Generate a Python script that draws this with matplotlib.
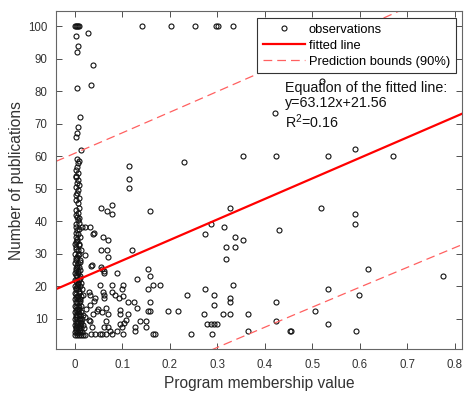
import numpy as np
import matplotlib.pyplot as plt

plt.rcParams['font.family'] = ['Liberation Sans', 'DejaVu Sans']
plt.rcParams['mathtext.fontset'] = 'custom'
plt.rcParams['mathtext.rm'] = 'Liberation Sans'

# dense column of observations at membership ~0
col_pts = [
    (0.000, 100), (0.002, 100), (0.004, 100), (0.006, 100), (0.008, 100),
    (0.003, 97), (0.007, 94), (0.004, 92), (0.005, 81), (0.011, 72),
    (0.006, 69), (0.004, 67), (0.003, 66), (0.012, 62),
    (0.004, 59.0), (0.008, 58.5), (0.006, 57.8), (0.004, 56.7), (0.003, 55.7),
    (0.006, 54.7), (0.002, 54.0), (0.003, 53.4), (0.006, 52.6), (0.004, 51.8),
    (0.008, 51.0), (0.003, 50.6), (0.006, 49.5), (0.004, 48.7), (0.001, 48.0),
    (0.008, 47.0), (0.001, 46.5), (0.006, 45.4), (0.003, 43.4), (0.006, 42.5),
    (0.004, 41.3), (0.006, 40.3), (0.008, 39.5), (0.001, 38.2), (0.004, 37.2),
    (0.002, 36.2), (0.006, 36), (0.002, 35), (0.010, 35), (0.004, 34),
    (0.000, 33), (0.008, 33), (0.002, 32), (0.006, 31), (0.012, 31),
    (0.000, 30), (0.008, 30), (0.004, 29), (0.002, 28), (0.010, 28),
    (0.000, 27), (0.006, 27), (0.004, 26), (0.008, 26), (0.002, 25),
    (0.010, 25), (0.000, 24), (0.006, 24), (0.004, 23), (0.010, 23),
    (0.000, 22), (0.008, 22), (0.006, 21), (0.012, 21), (0.000, 20),
    (0.004, 20), (0.010, 20), (0.002, 19), (0.006, 19), (0.014, 19),
    (0.000, 18), (0.008, 18), (0.004, 17), (0.012, 17), (0.000, 16),
    (0.006, 16), (0.010, 16), (0.002, 15), (0.008, 15), (0.000, 14),
    (0.006, 14), (0.012, 14), (0.004, 13), (0.008, 13), (0.000, 12),
    (0.006, 12), (0.012, 12), (0.002, 11), (0.010, 11), (0.016, 11),
    (0.000, 10), (0.004, 10), (0.008, 10), (0.014, 10), (0.002, 9),
    (0.006, 9), (0.012, 9), (0.000, 8), (0.004, 8), (0.010, 8),
    (0.016, 8), (0.002, 7), (0.008, 7), (0.012, 7), (0.018, 7),
    (0.000, 6), (0.006, 6), (0.010, 6), (0.014, 6), (0.000, 5),
    (0.004, 5), (0.008, 5), (0.012, 5), (0.016, 5), (0.020, 5),
    # second layer, fills the solid part of the column
    (0.005, 34.5), (0.001, 33.5), (0.009, 32.5), (0.003, 31.5), (0.007, 29.5),
    (0.001, 28.5), (0.011, 27.5), (0.005, 26.5), (0.001, 25.5), (0.007, 24.5),
    (0.003, 23.5), (0.011, 22.5), (0.001, 21.5), (0.007, 20.5), (0.003, 19.5),
    (0.009, 18.5), (0.001, 17.5), (0.007, 17.0), (0.003, 16.5), (0.011, 15.5),
    (0.005, 15.0), (0.001, 13.5), (0.009, 13.5), (0.003, 12.5), (0.009, 11.5),
    (0.005, 11.0), (0.001, 10.5), (0.011, 9.5), (0.005, 8.5), (0.001, 7.5),
    (0.007, 7.5), (0.003, 6.5), (0.011, 6.5), (0.005, 5.5), (0.013, 8.5),
    (0.009, 44.0), (0.001, 42.0), (0.009, 41.0), (0.003, 39.0), (0.009, 37.5),
]

# observations spread out along the x axis
spread_pts = [
    (0.028, 98), (0.038, 88), (0.034, 82),
    (0.142, 100), (0.203, 100), (0.252, 100), (0.298, 100), (0.302, 100), (0.333, 100),
    (0.422, 73.1), (0.520, 83.2),
    (0.114, 57.0), (0.114, 53.0), (0.114, 50.1), (0.230, 58.1), (0.353, 60.0),
    (0.078, 45.0), (0.055, 44.1), (0.067, 43.1), (0.078, 42.2), (0.158, 43.1), (0.326, 44.1),
    (0.287, 39.1), (0.274, 36.1), (0.313, 38.1), (0.337, 35.1), (0.353, 34.2),
    (0.319, 32.1), (0.337, 32.1), (0.319, 28.2),
    (0.014, 38.1), (0.022, 38.1), (0.031, 38.1), (0.039, 36.4),
    (0.038, 36.1), (0.058, 35.1), (0.069, 34.2), (0.055, 31.1), (0.067, 31.1),
    (0.069, 29.0), (0.121, 31.1), (0.020, 29.4), (0.035, 26.4),
    (0.034, 26.2), (0.055, 26.0), (0.056, 25.3), (0.062, 24.5), (0.060, 24.1), (0.088, 24.1),
    (0.154, 25.1), (0.158, 23.1), (0.131, 22.2),
    (0.154, 19.2), (0.165, 20.2), (0.178, 20.2), (0.274, 19.2), (0.333, 20.2),
    (0.292, 17.1), (0.235, 17.1), (0.326, 16.2), (0.326, 15.2), (0.292, 14.3),
    (0.053, 20.2), (0.078, 20.2), (0.102, 20.2), (0.099, 19.2), (0.058, 18.2),
    (0.078, 18.2), (0.085, 17.1), (0.062, 17.1), (0.101, 16.9), (0.029, 18.1),
    (0.043, 16.2), (0.060, 16.2), (0.092, 16.2), (0.031, 17.1), (0.017, 17.1),
    (0.039, 15.5), (0.112, 15.2), (0.125, 15.2), (0.031, 14.2),
    (0.024, 13.0), (0.048, 13.0), (0.056, 12.0), (0.094, 12.6),
    (0.066, 13.2), (0.131, 13.2), (0.154, 12.2), (0.158, 15.2), (0.046, 12.2),
    (0.037, 11.3), (0.069, 11.3), (0.095, 11.3), (0.112, 11.3),
    (0.195, 12.2), (0.216, 12.2), (0.158, 12.2),
    (0.020, 10.4), (0.029, 9.5), (0.108, 9.5),
    (0.032, 9.2), (0.065, 9.2), (0.095, 8.2), (0.104, 8.7), (0.137, 9.2),
    (0.150, 9.2), (0.150, 7.3), (0.074, 6.3), (0.088, 6.3), (0.098, 7.3),
    (0.035, 7.3), (0.062, 7.3), (0.069, 7.5), (0.127, 7.5), (0.127, 6.3),
    (0.034, 5.2), (0.043, 5.2), (0.052, 5.3), (0.057, 5.2), (0.065, 5.2),
    (0.077, 5.3), (0.102, 5.2), (0.164, 5.2), (0.169, 5.2),
    (0.245, 5.2), (0.288, 5.2), (0.272, 11.3), (0.277, 8.2), (0.287, 8.2),
    (0.292, 8.2), (0.299, 8.2), (0.312, 11.3), (0.326, 11.3),
    (0.364, 11.3), (0.364, 6.3),
    (0.424, 60.1), (0.533, 60.1), (0.589, 62.1), (0.670, 60.1),
    (0.519, 44.1), (0.589, 42.2), (0.589, 39.2), (0.429, 37.2),
    (0.618, 25.2), (0.776, 23.2), (0.533, 19.2), (0.599, 17.2),
    (0.423, 15.2), (0.506, 12.2), (0.423, 9.2), (0.532, 8.2),
    (0.453, 6.3), (0.455, 6.3), (0.592, 6.3),
]

# fitted line y = slope*x + intercept, 90% prediction half-width
slope = 63.12
intercept = 21.56
band_base = 39.3
band_xmean = 0.1
band_sxx = 10.0

x_ticks = [0, 0.1, 0.2, 0.3, 0.4, 0.5, 0.6, 0.7, 0.8]
x_ticklabels = ['0', '0.1', '0.2', '0.3', '0.4', '0.5', '0.6', '0.7', '0.8']
y_ticks = [10, 20, 30, 40, 50, 60, 70, 80, 90, 100]

pts = np.array(col_pts + spread_pts)
xlo, xhi = -0.04, 0.815

fig = plt.figure(figsize=(4.67, 3.98), dpi=100)
ax = fig.add_axes([0.12, 0.123, 0.869, 0.849])

ax.plot(pts[:, 0], pts[:, 1], 'o', mfc='none', mec='#111111', ms=3.6, mew=0.8,
        label='observations')

xx = np.linspace(xlo, xhi, 200)
fit = slope * xx + intercept
hw = band_base * np.sqrt(1 + (xx - band_xmean) ** 2 / band_sxx)
ax.plot(xx, fit, color='#ff0000', lw=1.6, label='fitted line')
ax.plot(xx, fit + hw, color='#ff6060', lw=0.9, dashes=(7, 4),
        label='Prediction bounds (90%)')
ax.plot(xx, fit - hw, color='#ff6060', lw=0.9, dashes=(7, 4))

ax.set_xlim(xlo, xhi)
ax.set_ylim(0.6, 104.6)
ax.set_xticks(x_ticks)
ax.set_xticklabels(x_ticklabels)
ax.set_yticks(y_ticks)
ax.tick_params(direction='in', top=True, right=True, length=4, width=0.6,
               colors='#333333', labelsize=8.3)
ax.tick_params(axis='x', pad=7)
ax.tick_params(axis='y', pad=6)
for s in ax.spines.values():
    s.set_color('#666666')
    s.set_linewidth(0.8)

ax.set_xlabel('Program membership value', fontsize=11.2, color='#333333', labelpad=4)
ax.set_ylabel('Number of publications', fontsize=11.2, color='#333333', labelpad=3)

leg = ax.legend(loc='upper right', bbox_to_anchor=(0.985, 0.98), borderaxespad=0,
                fontsize=9.3, fancybox=False, edgecolor='#333333', framealpha=1,
                numpoints=1, handlelength=3.3, handletextpad=0.26,
                labelspacing=0.3, borderpad=0.45)
leg.get_frame().set_linewidth(0.8)

ax.text(0.443, 83.0, 'Equation of the fitted line:\ny=63.12x+21.56\nR$^2$=0.16',
        fontsize=10.3, va='top', ha='left', linespacing=1.1, color='#111111')

fig.savefig('out.png', dpi=100)
